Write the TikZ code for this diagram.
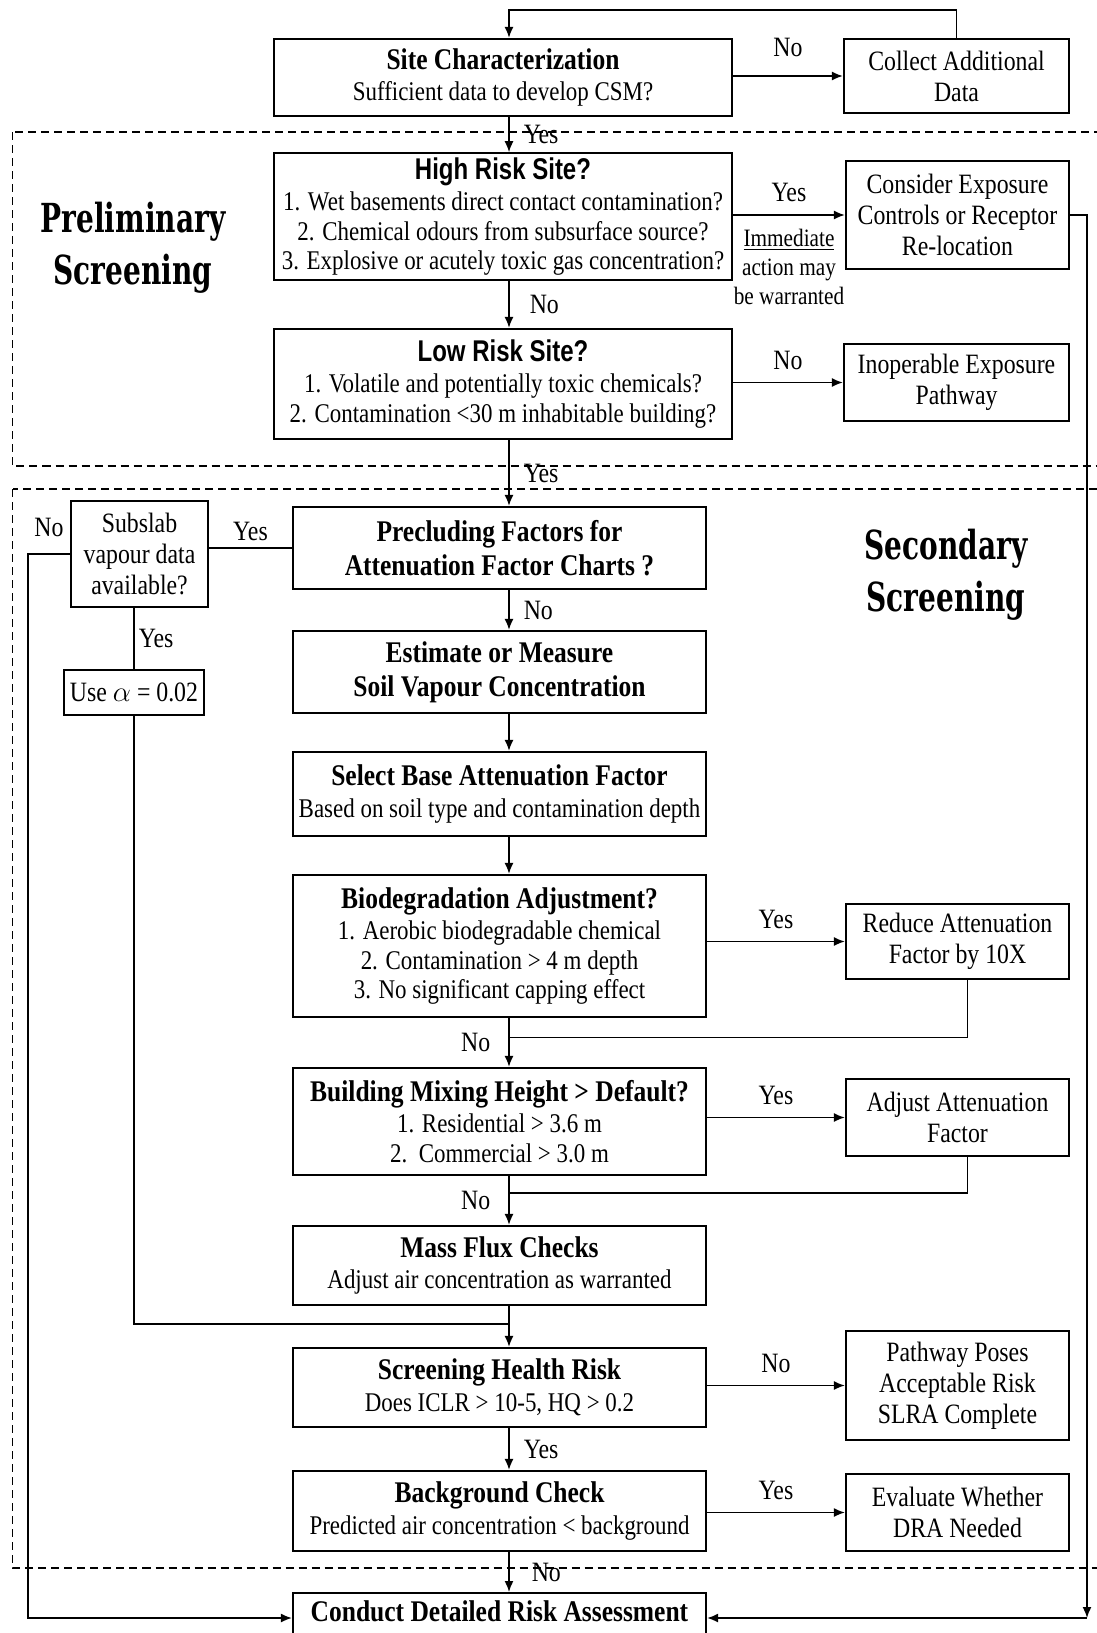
\documentclass[tikz,border=0pt]{standalone}
\usepackage{fontspec}
\setmainfont{Liberation Serif}[FakeStretch=0.85]
\newfontfamily\pesada{DejaVu Serif}[FakeStretch=0.7]
\newfontfamily\semserifa{Liberation Sans}[FakeStretch=0.8]
\usepackage{tikz}
\usetikzlibrary{arrows.meta,positioning,calc}

\newcommand{\titulo}{\fontsize{15}{17}\selectfont\bfseries}

\begin{document}
\begin{tikzpicture}[x=0.5pt, y=-0.5pt,
  >={Latex[length=5.5pt,width=4.5pt]},
  caixa/.style={draw, line width=1.1pt, align=center, inner sep=2pt,
                font=\fontsize{13.5}{14.8}\selectfont, minimum width=206.5pt},
  topo/.style={caixa, minimum width=229pt},
  lado/.style={draw, line width=1.1pt, align=center, inner sep=2pt,
               font=\fontsize{14}{15.5}\selectfont, minimum width=111.5pt},
  seta/.style={->, line width=0.8pt},
  linha/.style={line width=0.8pt},
  rotulo/.style={font=\fontsize{14}{15}\selectfont, inner sep=1pt},
  zona/.style={dash pattern=on 4pt off 2.5pt, line width=0.7pt},
  grupo/.style={font=\pesada\bfseries\fontsize{20}{26}\selectfont, align=center}]

  \useasboundingbox (0,0) rectangle (1097,1633);

  % zonas tracejadas
  \draw[zona] (12.5,132) rectangle (1120,466);
  \draw[zona] (12.5,489) rectangle (1120,1568);
  \node[grupo] (prelim) at (133,248) {Preliminary\\ Screening};
  \node[grupo] (secund) at (946,575) {Secondary\\ Screening};

  % coluna principal
  \node[topo, minimum height=38.5pt] (site) at (503,77.5) {{\titulo Site Characterization}\\[1pt] Sufficient data to develop CSM?};
  \node[topo, minimum height=62.5pt] (alto) at (503,216.5) {{\titulo\semserifa High Risk Site?}\\[1pt] 1. Wet basements direct contact contamination?\\ 2. Chemical odours from subsurface source?\\ 3. Explosive or acutely toxic gas concentration?};
  \node[topo, minimum height=55pt] (baixo) at (503,384) {{\titulo\semserifa Low Risk Site?}\\[1pt] 1. Volatile and potentially toxic chemicals?\\ 2. Contamination <30 m inhabitable building?};
  \node[caixa, minimum height=41pt] (precl) at (499.5,548) {{\titulo Precluding Factors for}\\[2pt] {\titulo Attenuation Factor Charts ?}};
  \node[caixa, minimum height=41pt] (estima) at (499.5,672) {{\titulo Estimate or Measure}\\[2pt] {\titulo Soil Vapour Concentration}};
  \node[caixa, minimum height=42pt] (base) at (499.5,794) {{\titulo Select Base Attenuation Factor}\\[1pt] Based on soil type and contamination depth};
  \node[caixa, minimum height=71pt] (bio) at (499.5,946) {{\titulo Biodegradation Adjustment?}\\[1pt] 1. Aerobic biodegradable chemical\\ 2. Contamination > 4 m depth\\ 3. No significant capping effect};
  \node[caixa, minimum height=53.5pt] (mistura) at (499.5,1121.5) {{\titulo Building Mixing Height > Default?}\\[1pt] 1. Residential > 3.6 m\\ 2.~~Commercial > 3.0 m};
  \node[caixa, minimum height=39.5pt] (fluxo) at (499.5,1265.5) {{\titulo Mass Flux Checks}\\[1pt] Adjust air concentration as warranted};
  \node[caixa, minimum height=39.5pt] (saude) at (499.5,1387.5) {{\titulo Screening Health Risk}\\[1pt] Does ICLR > 10-5, HQ > 0.2};
  \node[caixa, minimum height=40pt] (fundo) at (499.5,1511) {{\titulo Background Check}\\[1pt] Predicted air concentration < background};
  \node[caixa, anchor=north, inner ysep=4pt, text depth=26pt] (detalhe) at (499.5,1592) {\titulo Conduct Detailed Risk Assessment};

  % caixas laterais
  \node[lado, minimum width=112.5pt, minimum height=37pt] (coleta) at (956.5,76) {Collect Additional\\ Data};
  \node[lado, minimum height=54pt] (expo) at (957.5,215) {Consider Exposure\\ Controls or Receptor\\ Re-location};
  \node[lado, minimum width=112.5pt, minimum height=38.5pt] (inop) at (956.5,382.5) {Inoperable Exposure\\ Pathway};
  \node[lado, minimum width=68.5pt, minimum height=53pt] (subslab) at (139.5,554) {Subslab\\ vapour data\\ available?};
  \node[lado, minimum width=70pt, minimum height=22.5pt] (alfa) at (134,692.5) {Use \(\alpha\) = 0.02};
  \node[lado, minimum height=37.5pt] (reduz) at (957.5,941.5) {Reduce Attenuation\\ Factor by 10X};
  \node[lado, minimum height=38.5pt] (ajusta) at (957.5,1117.5) {Adjust Attenuation\\ Factor};
  \node[lado, minimum height=54.5pt] (aceita) at (957.5,1385.5) {Pathway Poses\\ Acceptable Risk\\ SLRA Complete};
  \node[lado, minimum height=38.5pt] (dra) at (957.5,1512.5) {Evaluate Whether\\ DRA Needed};

  \coordinate (eixo) at (509,0);
  \coordinate (retorno) at (509,10);
  \coordinate (dir) at (1087,1618);
  \coordinate (esq) at (28,1618);

  % ligacoes
  \draw[seta] (coleta.north) |- (retorno) -- (site.north -| eixo);
  \draw[seta] (coleta.west -| site.east) -- node[rotulo, above=8pt] {No} (coleta.west);
  \draw[seta] (site.south -| eixo) -- node[rotulo, right=6pt] {Yes} (alto.north -| eixo);
  \draw[seta] (expo.west -| alto.east) -- node[rotulo, above=5pt] {Yes} (expo.west);
  \node[font=\fontsize{12.5}{14.5}\selectfont, align=center, below=3pt of $(alto.east)!0.5!(expo.west)$] (imediata) {\underline{Immediate}\\ action may\\ be warranted};
  \draw[seta] (alto.south -| eixo) -- node[rotulo, right=9pt] {No} (baixo.north -| eixo);
  \draw[seta] (inop.west -| baixo.east) -- node[rotulo, above=5pt] {No} (inop.west);
  \draw[seta] (baixo.south -| eixo) -- node[rotulo, right=6pt] {Yes} (precl.north -| eixo);
  \draw[linha] (precl.west) -- node[rotulo, above=2pt] {Yes} (precl.west -| subslab.east);
  \draw[linha] (subslab.south -| alfa.north) -- node[rotulo, right=1pt] {Yes} (alfa.north);
  \draw[seta] (subslab.west) -- node[rotulo, above=7pt] {No} (subslab.west -| esq) -- (esq) -- (esq -| detalhe.west);
  \draw[seta] (precl.south -| eixo) -- node[rotulo, right=6pt] {No} (estima.north -| eixo);
  \draw[seta] (estima.south -| eixo) -- (base.north -| eixo);
  \draw[seta] (base.south -| eixo) -- (bio.north -| eixo);
  \draw[seta] (reduz.west -| bio.east) -- node[rotulo, above=5pt] {Yes} (reduz.west);
  \draw[linha] ([xshift=5pt]reduz.south) |- ($(bio.south -| eixo)!0.4!(mistura.north -| eixo)$);
  \draw[seta] (bio.south -| eixo) -- node[rotulo, left=8pt] {No} (mistura.north -| eixo);
  \draw[seta] (ajusta.west -| mistura.east) -- node[rotulo, above=5pt] {Yes} (ajusta.west);
  \draw[linha] ([xshift=5pt]ajusta.south) |- ($(mistura.south -| eixo)!0.35!(fluxo.north -| eixo)$);
  \draw[seta] (mistura.south -| eixo) -- node[rotulo, left=8pt] {No} (fluxo.north -| eixo);
  \draw[linha] (alfa.south) |- ($(fluxo.south -| eixo)!0.44!(saude.north -| eixo)$);
  \draw[seta] (fluxo.south -| eixo) -- (saude.north -| eixo);
  \draw[seta] (aceita.west -| saude.east) -- node[rotulo, above=5pt] {No} (aceita.west);
  \draw[seta] (saude.south -| eixo) -- node[rotulo, right=6pt] {Yes} (fundo.north -| eixo);
  \draw[seta] (dra.west -| fundo.east) -- node[rotulo, above=5pt] {Yes} (dra.west);
  \draw[seta] (fundo.south -| eixo) -- node[rotulo, right=10pt] {No} (detalhe.north -| eixo);
  \draw[seta] (expo.east) -| (dir);
  \draw[seta] (dir) -- (dir -| detalhe.east);
\end{tikzpicture}
\end{document}
